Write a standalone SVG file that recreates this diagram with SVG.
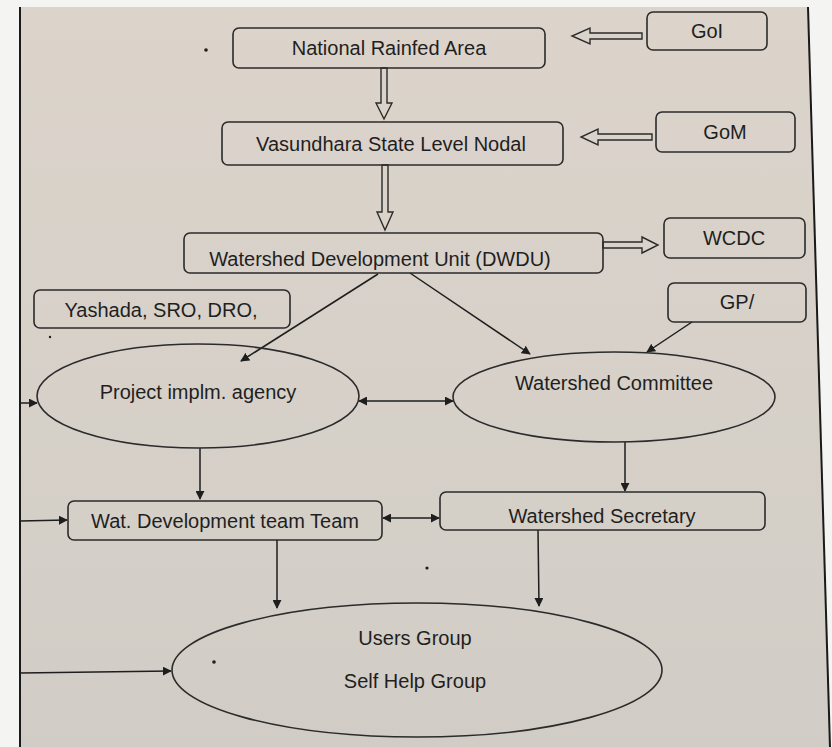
<svg xmlns="http://www.w3.org/2000/svg" width="832" height="747" viewBox="0 0 832 747">
  <defs>
    <linearGradient id="paper" x1="0" y1="0" x2="0" y2="1">
      <stop offset="0" stop-color="#dcd4cb"/>
      <stop offset="1" stop-color="#d1cdc6"/>
    </linearGradient>
    <marker id="tip" viewBox="0 0 10 10" refX="9" refY="5" markerWidth="9" markerHeight="9" markerUnits="userSpaceOnUse" orient="auto-start-reverse">
      <path d="M0,0 L10,5 L0,10 z" fill="#1e1e1e"/>
    </marker>
    <style>
      .box { fill: none; stroke: #2b2b2b; stroke-width: 1.6; }
      .oval { fill: none; stroke: #2b2b2b; stroke-width: 1.6; }
      .lbl { font-family: "Liberation Sans", Arial, sans-serif; font-size: 20px; fill: #1f1f1f; text-anchor: middle; }
      .ln { fill: none; stroke: #1e1e1e; stroke-width: 1.5; }
      .hollow { fill: #dad3ca; stroke: #2b2b2b; stroke-width: 1.4; stroke-linejoin: miter; }
      .frame { fill: none; stroke: #1a1a1a; stroke-width: 2; }
      .speck { fill: #1e1e1e; }
    </style>
  </defs>

  <!-- sheet and margins -->
  <rect x="0" y="0" width="832" height="747" fill="#f4f4f2"/>
  <polygon points="19,7 808,7 830,747 19,747" fill="url(#paper)"/>
  <line class="frame" x1="20" y1="7" x2="20" y2="747"/>
  <line class="frame" x1="808" y1="7" x2="830" y2="747" stroke-width="1.5"/>

  <!-- connectors -->
  <g id="connectors">
    <!-- hollow block arrows -->
    <path class="hollow" d="M642,33 L590,33 L590,28 L572,36 L590,44 L590,39 L642,39 Z"/>
    <path class="hollow" d="M652,134 L598,134 L598,129 L581,137 L598,145 L598,140 L652,140 Z"/>
    <path class="hollow" d="M381,68 L381,103 L376,103 L384,119 L392,103 L387,103 L387,68 Z"/>
    <path class="hollow" d="M382,165 L382,212 L377,212 L385,230 L393,212 L388,212 L388,165 Z"/>
    <path class="hollow" d="M603,242 L642,242 L642,237 L658,245 L642,253 L642,248 L603,248 Z"/>

    <!-- plain arrows -->
    <line class="ln" x1="378" y1="274" x2="241" y2="361" marker-end="url(#tip)"/>
    <line class="ln" x1="410" y1="273" x2="530" y2="354" marker-end="url(#tip)"/>
    <line class="ln" x1="692" y1="322" x2="647" y2="352" marker-end="url(#tip)"/>
    <line class="ln" x1="359" y1="401" x2="453" y2="401" marker-start="url(#tip)" marker-end="url(#tip)"/>
    <line class="ln" x1="20" y1="403" x2="37" y2="403" marker-end="url(#tip)"/>
    <line class="ln" x1="200" y1="448" x2="200" y2="499" marker-end="url(#tip)"/>
    <line class="ln" x1="625" y1="442" x2="625" y2="491" marker-end="url(#tip)"/>
    <line class="ln" x1="383" y1="518" x2="439" y2="518" marker-start="url(#tip)" marker-end="url(#tip)"/>
    <line class="ln" x1="20" y1="521" x2="67" y2="520" marker-end="url(#tip)"/>
    <line class="ln" x1="277" y1="540" x2="277" y2="608" marker-end="url(#tip)"/>
    <line class="ln" x1="538" y1="530" x2="539" y2="606" marker-end="url(#tip)"/>
    <line class="ln" x1="20" y1="673" x2="171" y2="671" marker-end="url(#tip)"/>
  </g>

  <!-- nodes -->
  <g id="national">
    <rect class="box" x="233" y="28" width="312" height="40" rx="6"/>
    <text class="lbl" x="389" y="55">National Rainfed Area</text>
  </g>
  <g id="goi">
    <rect class="box" x="647" y="12" width="120" height="38" rx="6"/>
    <text class="lbl" x="707" y="38">GoI</text>
  </g>
  <g id="vasundhara">
    <rect class="box" x="222" y="122" width="341" height="43" rx="6"/>
    <text class="lbl" x="391" y="151">Vasundhara State Level Nodal</text>
  </g>
  <g id="gom">
    <rect class="box" x="656" y="112" width="139" height="40" rx="6"/>
    <text class="lbl" x="725" y="139">GoM</text>
  </g>
  <g id="dwdu">
    <rect class="box" x="184" y="233" width="419" height="40" rx="6"/>
    <text class="lbl" x="380" y="266">Watershed Development Unit (DWDU)</text>
  </g>
  <g id="wcdc">
    <rect class="box" x="664" y="218" width="141" height="40" rx="6"/>
    <text class="lbl" x="734" y="245">WCDC</text>
  </g>
  <g id="yashada">
    <rect class="box" x="34" y="290" width="256" height="38" rx="6"/>
    <text class="lbl" x="161" y="317">Yashada, SRO, DRO,</text>
  </g>
  <g id="gp">
    <rect class="box" x="668" y="283" width="138" height="39" rx="6"/>
    <text class="lbl" x="737" y="309">GP/</text>
  </g>
  <g id="pia">
    <ellipse class="oval" cx="198" cy="396" rx="161" ry="52"/>
    <text class="lbl" x="198" y="399">Project implm. agency</text>
  </g>
  <g id="committee">
    <ellipse class="oval" cx="614" cy="397" rx="161" ry="45"/>
    <text class="lbl" x="614" y="390">Watershed Committee</text>
  </g>
  <g id="wdt">
    <rect class="box" x="68" y="501" width="314" height="39" rx="6"/>
    <text class="lbl" x="225" y="528">Wat. Development team Team</text>
  </g>
  <g id="secretary">
    <rect class="box" x="440" y="492" width="325" height="38" rx="6"/>
    <text class="lbl" x="602" y="523">Watershed Secretary</text>
  </g>
  <g id="groups">
    <ellipse class="oval" cx="417" cy="670" rx="245" ry="67"/>
    <text class="lbl" x="415" y="645">Users Group</text>
    <text class="lbl" x="415" y="688">Self Help Group</text>
  </g>

  <!-- print specks -->
  <circle class="speck" cx="206" cy="50" r="1.8"/>
  <circle class="speck" cx="427" cy="568" r="1.6"/>
  <circle class="speck" cx="214" cy="662" r="1.8"/>
  <circle class="speck" cx="50" cy="337" r="1.2"/>
</svg>
